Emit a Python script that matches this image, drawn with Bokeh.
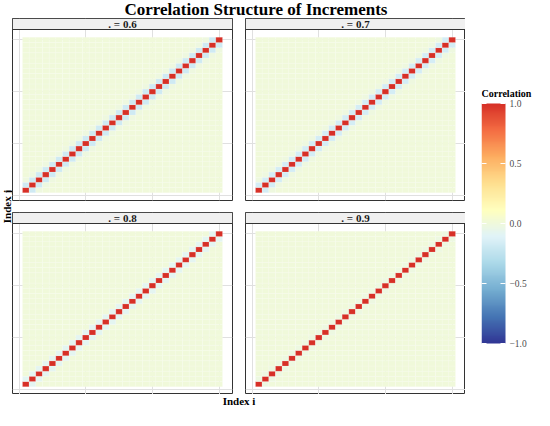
import math
import numpy as np
from bokeh.plotting import figure
from bokeh.models import (ColumnDataSource, LinearColorMapper, FixedTicker,
                          Range1d, Label, BoxAnnotation)
from bokeh.core.properties import value
from bokeh.layouts import row, column
from bokeh.embed import file_html
from bokeh.resources import INLINE

# ---------------- data ----------------
n_obs = 30
panel_labels = [". = 0.6", ". = 0.7", ". = 0.8", ". = 0.9"]
# correlation by lag |i-j| (lag 0, 1, 2, ...); later lags read as 0.0
lag_corr_06 = [1.0, -0.18, -0.01]
lag_corr_07 = [1.0, -0.16, -0.01]
lag_corr_08 = [1.0, -0.08]
lag_corr_09 = [1.0, -0.02]
lag_corrs = [lag_corr_06, lag_corr_07, lag_corr_08, lag_corr_09]
grid_ticks = [0, 10, 20, 30]
colorbar_ticks = [-1.0, -0.5, 0.0, 0.5, 1.0]
colorbar_labels = ["\u22121.0", "\u22120.5", "0.0", "0.5", "1.0"]
title_text = "Correlation Structure of Increments"
x_title = "Index i"
y_title = "Index j"
legend_title = "Correlation"
palette_anchor = ["#313695", "#4575B4", "#74ADD1", "#ABD9E9", "#E0F3F8",
                  "#FFFFBF", "#FEE090", "#FDAE61", "#F46D43", "#D73027"]

# ---------------- style / layout ----------------
FONT = "Liberation Serif"
PANEL_W = 220
PANEL_H = 171
STRIP_H = 11
GAP_X = 13
GAP_Y = 12
TITLE_H = 18
XLAB_H = 16
YLAB_W = 12
X_LO, X_HI = -1, n_obs + 2
strip_units = STRIP_H * (X_HI - X_LO) / PANEL_H


def hex2rgb(h):
    return [int(h[k:k + 2], 16) for k in (1, 3, 5)]


anchors = np.array([hex2rgb(c) for c in palette_anchor], float)
pos = np.linspace(0, 1, len(anchors))
tt = np.linspace(0, 1, 256)
rgb = np.stack([np.interp(tt, pos, anchors[:, k]) for k in range(3)], 1)
palette = ["#%02x%02x%02x" % tuple(int(round(v)) for v in c) for c in rgb]
mapper = LinearColorMapper(palette=palette, low=-1, high=1)


def make_panel(k, right_border, bottom_border):
    lags = lag_corrs[k]
    ii, jj, vv = [], [], []
    for i in range(1, n_obs + 1):
        for j in range(1, n_obs + 1):
            d = abs(i - j)
            ii.append(i)
            jj.append(j)
            vv.append(lags[d] if d < len(lags) else 0.0)
    src = ColumnDataSource(dict(i=ii, j=jj, corr=vv))
    p = figure(frame_width=PANEL_W, frame_height=PANEL_H + STRIP_H,
               x_range=Range1d(X_LO, X_HI), y_range=Range1d(X_LO, X_HI + strip_units),
               toolbar_location=None, output_backend="svg", title=None,
               x_axis_location=None, y_axis_location=None, min_border=0)
    p.min_border_right = right_border
    p.min_border_bottom = bottom_border
    p.xgrid.ticker = FixedTicker(ticks=grid_ticks)
    p.ygrid.ticker = FixedTicker(ticks=grid_ticks)
    p.grid.grid_line_color = "#E0E0E0"
    p.grid.grid_line_width = 1
    p.outline_line_color = "#333333"
    p.outline_line_width = 1
    p.background_fill_color = "white"
    p.border_fill_color = "white"
    p.rect(x="i", y="j", width=1, height=1, source=src,
           fill_color={"field": "corr", "transform": mapper},
           line_color="white", line_width=0.5, line_alpha=0.3)
    strip = BoxAnnotation(bottom=X_HI, fill_color="#F0F0F0", fill_alpha=1,
                          line_color="#333333", line_width=1, line_alpha=1)
    p.add_layout(strip)
    p.add_layout(Label(x=(X_LO + X_HI) / 2, y=X_HI + strip_units / 2, text=panel_labels[k],
                       text_align="center", text_baseline="middle", text_font=FONT,
                       text_font_style="bold", text_font_size="11px", text_color="#1A1A1A"))
    return p


p1 = make_panel(0, GAP_X, GAP_Y)
p2 = make_panel(1, 0, GAP_Y)
p3 = make_panel(2, GAP_X, 0)
p4 = make_panel(3, 0, 0)

panels_w = 2 * PANEL_W + GAP_X
panels_h = 2 * (PANEL_H + STRIP_H) + GAP_Y
side_h = panels_h + XLAB_H


def blank(w, h):
    b = figure(frame_width=w, frame_height=h, x_range=Range1d(0, w), y_range=Range1d(0, h),
               toolbar_location=None, output_backend="svg", title=None,
               x_axis_location=None, y_axis_location=None, min_border=0)
    b.xgrid.visible = False
    b.ygrid.visible = False
    b.outline_line_color = None
    b.background_fill_color = "white"
    b.border_fill_color = "white"
    return b


# title
tfig = blank(534, TITLE_H)
tfig.add_layout(Label(x=YLAB_W + panels_w / 2 + 17, y=TITLE_H / 2, text=title_text,
                      text_align="center", text_baseline="middle", text_font=FONT,
                      text_font_style="bold", text_font_size="17px", text_color="black"))

# x label
xfig = blank(panels_w, XLAB_H)
xfig.add_layout(Label(x=panels_w / 2, y=XLAB_H - 6, text=x_title,
                      text_align="center", text_baseline="middle", text_font=FONT,
                      text_font_style="bold", text_font_size="11px", text_color="black"))

# y label
yfig = blank(YLAB_W, side_h)
yfig.add_layout(Label(x=YLAB_W / 2, y=XLAB_H + panels_h / 2, text=y_title, angle=math.pi / 2,
                      text_align="center", text_baseline="middle", text_font=FONT,
                      text_font_style="bold", text_font_size="11px", text_color="black"))

# legend (colour bar drawn as an image, its ticks and labels from the tick arrays)
BAR_W = 24
BAR_PX = 240
BAR_TOP = 85          # px from top of the side area
LEG_W = 534 - YLAB_W - panels_w
LEG_LEFT = 16
leg_frame_w = LEG_W - LEG_LEFT
px_per_unit = BAR_PX / 2.0
y_top = 1 + BAR_TOP / px_per_unit
y_bot = -1 - (side_h - BAR_TOP - BAR_PX) / px_per_unit
lfig = figure(frame_width=leg_frame_w, frame_height=side_h, x_range=Range1d(0, leg_frame_w),
              y_range=Range1d(y_bot, y_top),
              toolbar_location=None, output_backend="svg", title=None,
              x_axis_location=None, y_axis_location=None, min_border=0)
lfig.min_border_left = LEG_LEFT
lfig.xgrid.visible = False
lfig.ygrid.visible = False
lfig.outline_line_color = None
lfig.background_fill_color = "white"
lfig.border_fill_color = "white"
grad = np.linspace(-1, 1, 256).reshape(-1, 1)
lfig.image(image=[grad], x=0, y=-1, dw=BAR_W, dh=2, color_mapper=mapper)
tick_src = ColumnDataSource(dict(t=colorbar_ticks, lab=colorbar_labels))
TICK_LEN = 5
lfig.segment(x0=0, x1=TICK_LEN, y0="t", y1="t", source=tick_src,
             line_color="white", line_width=1)
lfig.segment(x0=BAR_W - TICK_LEN, x1=BAR_W, y0="t", y1="t", source=tick_src,
             line_color="white", line_width=1)
lfig.text(x=BAR_W + 4, y="t", text="lab", source=tick_src, text_align="left",
          text_baseline="middle", text_font=value(FONT), text_font_size="9.5px",
          text_color="#4D4D4D")
lfig.add_layout(Label(x=0, y=1 + 5 / px_per_unit, text=legend_title,
                      text_align="left", text_baseline="bottom", text_font=FONT,
                      text_font_style="bold", text_font_size="10px", text_color="black"))

layout = column(tfig,
                row(yfig, column(row(p1, p2), row(p3, p4), xfig), lfig))

open("out.html", "w").write(file_html(layout, INLINE))
